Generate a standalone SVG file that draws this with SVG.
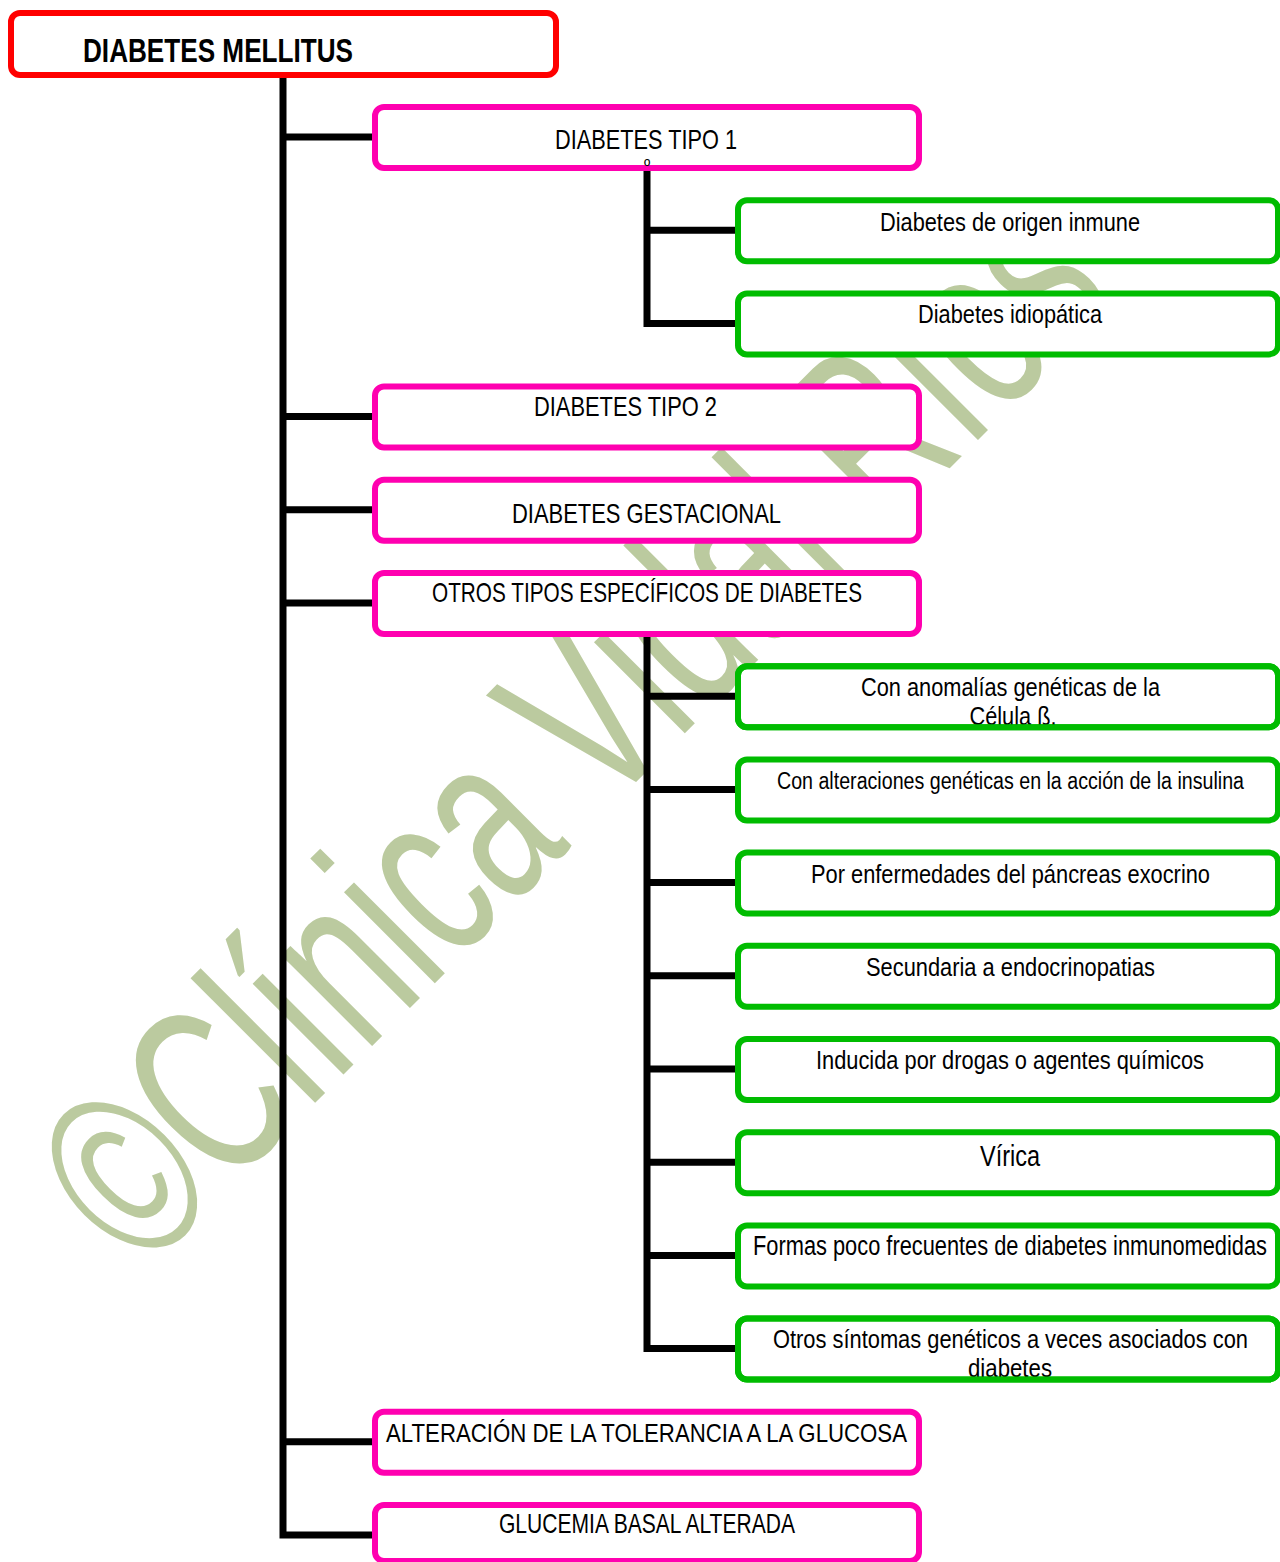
<svg xmlns="http://www.w3.org/2000/svg" width="1280" height="1562" viewBox="0 0 1280 1562">
<style>
.wm{font-family:"Liberation Sans",Arial,sans-serif;font-size:243px;fill:#BBCA9F}
.box{fill:#fff;stroke-width:6}
.edge{fill:none;stroke-width:6}
.red{stroke:#FF0000}
.pink{stroke:#FF00B0}
.green{stroke:#00BC00}
.t{font-family:"Liberation Sans",Arial,sans-serif;font-size:27.5px;fill:#000;text-anchor:middle}
.title{font-weight:bold;font-size:33px;text-anchor:start}
.conn{fill:none;stroke:#000;stroke-width:7;stroke-linejoin:miter;stroke-linecap:butt}
</style>
<rect width="1280" height="1562" fill="#fff"/>
<g id="watermark">
<text class="wm" transform="translate(142,1276) rotate(-45) scale(0.66,1)">©Clínica Vidal Ríos</text>
</g>
<g id="connectors">
<path class="conn" d="M283,76 V1535 H375"/>
<path class="conn" d="M283,137 H375 M283,416.6 H375 M283,509.8 H375 M283,603 H375 M283,1441.8 H375"/>
<path class="conn" d="M647,168 V323.4 H738 M647,230.2 H738"/>
<path class="conn" d="M647,634 V1348.6 H738 M647,696.2 H738 M647,789.4 H738 M647,882.6 H738 M647,975.8 H738 M647,1069 H738 M647,1162.2 H738 M647,1255.4 H738"/>
</g>
<g id="n-dm">
<rect class="box red" x="11" y="13" width="545" height="62" rx="9"/>
<text class="t title" x="83" y="62" textLength="270" lengthAdjust="spacingAndGlyphs">DIABETES MELLITUS</text>
</g>
<g id="n-tipo1">
<rect class="box pink" x="375" y="107" width="544" height="61" rx="9"/>
<text class="t" x="646" y="149" textLength="182" lengthAdjust="spacingAndGlyphs">DIABETES TIPO 1</text>
<text class="t" x="647" y="172" style="font-size:17px">º</text>
</g>
<g id="n-inmune">
<rect class="box green" x="738" y="200.2" width="540" height="61" rx="9"/>
<text class="t" x="1010" y="231" style="font-size:25.5px" textLength="260" lengthAdjust="spacingAndGlyphs">Diabetes de origen inmune</text>
</g>
<g id="n-idiopatica">
<rect class="box green" x="738" y="293.4" width="540" height="61" rx="9"/>
<text class="t" x="1010" y="323" style="font-size:25.5px" textLength="184" lengthAdjust="spacingAndGlyphs">Diabetes idiopática</text>
</g>
<g id="n-tipo2">
<rect class="box pink" x="375" y="386.6" width="544" height="61" rx="9"/>
<text class="t" x="625.5" y="416" textLength="183" lengthAdjust="spacingAndGlyphs">DIABETES TIPO 2</text>
</g>
<g id="n-gestacional">
<rect class="box pink" x="375" y="479.8" width="544" height="61" rx="9"/>
<text class="t" x="646.5" y="523" textLength="269" lengthAdjust="spacingAndGlyphs">DIABETES GESTACIONAL</text>
</g>
<g id="n-otros">
<rect class="box pink" x="375" y="573" width="544" height="61" rx="9"/>
<text class="t" x="647" y="602" textLength="430" lengthAdjust="spacingAndGlyphs">OTROS TIPOS ESPECÍFICOS DE DIABETES</text>
</g>
<g id="n-celula">
<rect class="box green" x="738" y="666.2" width="540" height="61" rx="9"/>
<text class="t" x="1010.5" y="696" style="font-size:25.5px" textLength="299" lengthAdjust="spacingAndGlyphs">Con anomalías genéticas de la</text>
<text class="t" x="1013" y="725" style="font-size:25.5px" textLength="87" lengthAdjust="spacingAndGlyphs">Célula ß.</text>
<rect class="edge green" x="738" y="666.2" width="540" height="61" rx="9"/>
</g>
<g id="n-insulina">
<rect class="box green" x="738" y="759.4" width="540" height="61" rx="9"/>
<text class="t" x="1010.5" y="788.5" style="font-size:23.5px" textLength="467" lengthAdjust="spacingAndGlyphs">Con alteraciones genéticas en la acción de la insulina</text>
</g>
<g id="n-pancreas">
<rect class="box green" x="738" y="852.6" width="540" height="61" rx="9"/>
<text class="t" x="1010.5" y="883" style="font-size:25.5px" textLength="399" lengthAdjust="spacingAndGlyphs">Por enfermedades del páncreas exocrino</text>
</g>
<g id="n-endocrino">
<rect class="box green" x="738" y="945.8" width="540" height="61" rx="9"/>
<text class="t" x="1010.5" y="976" style="font-size:25.5px" textLength="289" lengthAdjust="spacingAndGlyphs">Secundaria a endocrinopatias</text>
</g>
<g id="n-drogas">
<rect class="box green" x="738" y="1039" width="540" height="61" rx="9"/>
<text class="t" x="1010" y="1069" style="font-size:25.5px" textLength="388" lengthAdjust="spacingAndGlyphs">Inducida por drogas o agentes químicos</text>
</g>
<g id="n-virica">
<rect class="box green" x="738" y="1132.2" width="540" height="61" rx="9"/>
<text class="t" x="1010" y="1166" style="font-size:29px" textLength="60" lengthAdjust="spacingAndGlyphs">Vírica</text>
</g>
<g id="n-inmunomedidas">
<rect class="box green" x="738" y="1225.4" width="540" height="61" rx="9"/>
<text class="t" x="1010" y="1255" style="font-size:27px" textLength="514" lengthAdjust="spacingAndGlyphs">Formas poco frecuentes de diabetes inmunomedidas</text>
</g>
<g id="n-sindromes">
<rect class="box green" x="738" y="1318.6" width="540" height="61" rx="9"/>
<text class="t" x="1010.5" y="1348" style="font-size:26.5px" textLength="475" lengthAdjust="spacingAndGlyphs">Otros síntomas genéticos a veces asociados con</text>
<text class="t" x="1010" y="1377" style="font-size:26.5px" textLength="84" lengthAdjust="spacingAndGlyphs">diabetes</text>
<rect class="edge green" x="738" y="1318.6" width="540" height="61" rx="9"/>
</g>
<g id="n-atg">
<rect class="box pink" x="375" y="1411.8" width="544" height="61" rx="9"/>
<text class="t" x="646.5" y="1442" style="font-size:26px" textLength="521" lengthAdjust="spacingAndGlyphs">ALTERACIÓN DE LA TOLERANCIA A LA GLUCOSA</text>
</g>
<g id="n-gba">
<rect class="box pink" x="375" y="1505" width="544" height="56" rx="9"/>
<text class="t" x="647" y="1533" textLength="296" lengthAdjust="spacingAndGlyphs">GLUCEMIA BASAL ALTERADA</text>
</g>
</svg>
